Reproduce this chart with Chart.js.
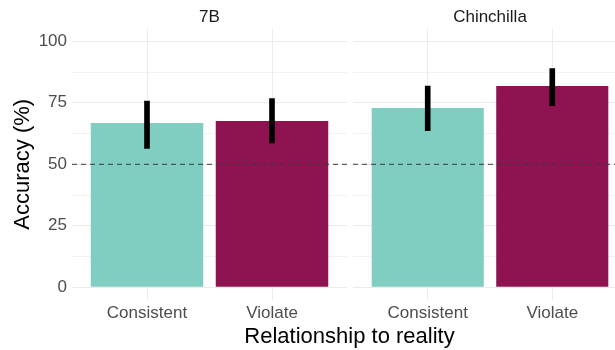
<!DOCTYPE html>
<html>
<head>
<meta charset="utf-8">
<script src="https://cdn.jsdelivr.net/npm/chart.js@4"></script>
<style>
  html, body { margin: 0; padding: 0; background: #fff; overflow: hidden; }
  #wrap { position: relative; width: 615px; height: 350px; overflow: hidden; font-family: "Liberation Sans", Arial, sans-serif; }
  #left { position: absolute; left: 0; top: 0; }
  #right { position: absolute; left: 350px; top: 0; }
  .strip { position: absolute; top: 8px; transform: translateX(-50%); white-space: nowrap;
           font-size: 17px; line-height: 17px; color: #1A1A1A; }
  #xtitle { position: absolute; left: 349.5px; top: 325px; transform: translateX(-50%); white-space: nowrap;
            font-size: 22px; line-height: 22px; color: #000; }
</style>
</head>
<body>
<div id="wrap">
  <canvas id="left" width="350" height="350"></canvas>
  <canvas id="right" width="280" height="350"></canvas>
  <div class="strip" id="strip1" style="left: 209.5px;"></div>
  <div class="strip" id="strip2" style="left: 490px;"></div>
  <div id="xtitle">Relationship to reality</div>
</div>
<script>
// categories and facets
const categories = ['Consistent', 'Violate'];
const models = ['7B', 'Chinchilla'];

// mean accuracy (%) and error bar bounds, per model
const acc7B = [66.8, 67.6];
const low7B = [56.5, 58.7];
const high7B = [75.7, 76.7];

const accChin = [72.9, 81.8];
const lowChin = [63.7, 73.8];
const highChin = [81.8, 88.9];

const barColors = ['#80CDC1', '#8E1350'];
const yTicks = [0, 25, 50, 75, 100];
const chance = 50;

const FONT = '"Liberation Sans", Arial, sans-serif';

// major ticks plus the minor ones halfway between
function gridTicks() {
  const t = [];
  for (let i = 0; i < yTicks.length; i++) {
    t.push({value: yTicks[i]});
    if (i < yTicks.length - 1) t.push({value: (yTicks[i] + yTicks[i + 1]) / 2});
  }
  return t;
}

function makeChart(id, acc, low, high, withYAxis) {
  const ctx = document.getElementById(id).getContext('2d');
  return new Chart(ctx, {
    type: 'bar',
    data: {
      datasets: [
        {
          type: 'bar',
          data: categories.map((c, i) => ({x: i + 1, y: [low[i], high[i]]})),
          backgroundColor: '#000',
          barThickness: 5,
          grouped: false,
          order: 0,
        },
        {
          type: 'line',
          data: [{x: 0.4, y: chance}, {x: 2.6, y: chance}],
          borderColor: '#3A3A3A',
          borderWidth: 1,
          borderDash: [5, 4],
          pointRadius: 0,
          order: 1,
        },
        {
          type: 'bar',
          data: categories.map((c, i) => ({x: i + 1, y: acc[i]})),
          backgroundColor: barColors,
          barPercentage: 0.9,
          categoryPercentage: 1,
          grouped: false,
          order: 2,
        },
      ],
    },
    options: {
      responsive: false,
      animation: false,
      layout: {padding: {left: 0, right: 3, top: 29, bottom: 0}},
      plugins: {
        legend: {display: false},
        tooltip: {enabled: false},
      },
      scales: {
        x: {
          type: 'linear',
          min: 0.4,
          max: 2.6,
          offset: false,
          afterBuildTicks: (scale) => { scale.ticks = categories.map((c, i) => ({value: i + 1})); },
          afterFit: (scale) => { scale.height = 50.4; },
          grid: {color: '#EBEBEB', drawTicks: false, offset: false},
          border: {display: false},
          ticks: {
            color: '#4D4D4D',
            font: {family: FONT, size: 17},
            padding: 4,
            callback: (v) => categories[v - 1],
          },
        },
        y: {
          min: -5,
          max: 105,
          afterBuildTicks: (scale) => { scale.ticks = gridTicks(); },
          afterFit: (scale) => { scale.width = withYAxis ? 72 : 3; },
          grid: {
            color: '#EBEBEB',
            lineWidth: (c) => (c.tick && c.tick.value % 25 === 0 ? 1 : 0.6),
            drawTicks: false,
          },
          border: {display: false},
          ticks: {
            display: withYAxis,
            color: '#4D4D4D',
            font: {family: FONT, size: 17},
            padding: 5,
            callback: (v) => (yTicks.includes(v) ? v : ''),
          },
          title: {
            display: withYAxis,
            text: 'Accuracy (%)',
            color: '#000',
            font: {family: FONT, size: 22},
            padding: {top: 10, bottom: 0},
          },
        },
      },
    },
  });
}

document.getElementById('strip1').textContent = models[0];
document.getElementById('strip2').textContent = models[1];

const chart1 = makeChart('left', acc7B, low7B, high7B, true);
const chart2 = makeChart('right', accChin, lowChin, highChin, false);
</script>
</body>
</html>
